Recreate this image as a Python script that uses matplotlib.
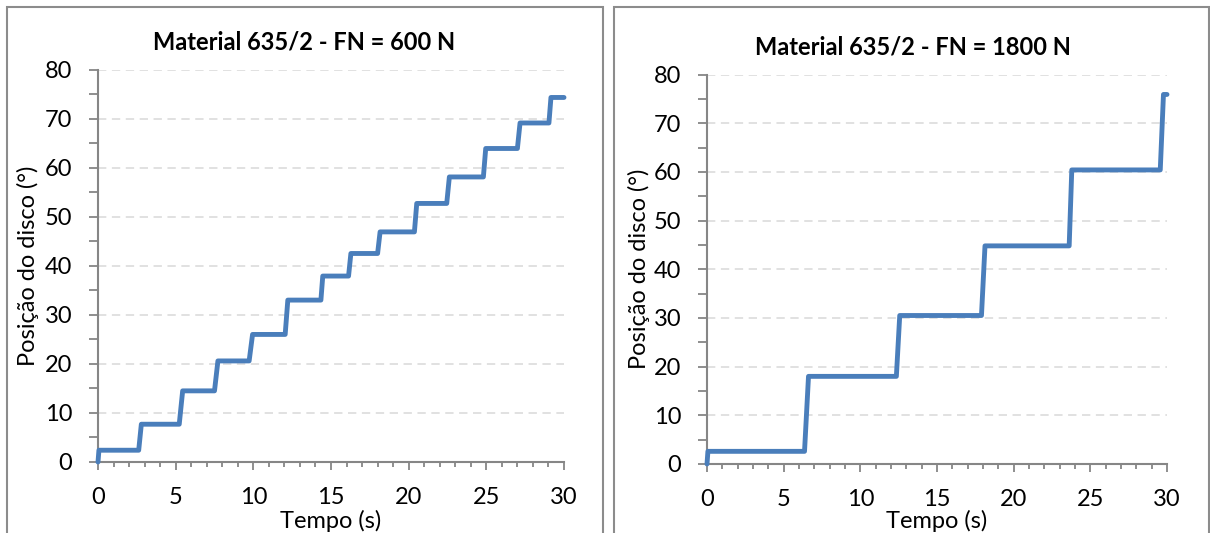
import matplotlib
matplotlib.use("Agg")
import matplotlib.pyplot as plt
from matplotlib.patches import Rectangle
from matplotlib.ticker import MultipleLocator

plt.rcParams['font.family'] = ['Lato', 'DejaVu Sans']
plt.rcParams['lines.scale_dashes'] = False

# FN = 600 N: start/end time of each rise and the plateau levels
t_rise_600 = [0.0, 2.62, 5.23, 7.50, 9.73, 12.05, 14.35, 16.13, 18.00, 20.37, 22.45, 24.81, 27.00, 29.03]
t_top_600 = [0.06, 2.79, 5.45, 7.72, 9.95, 12.22, 14.47, 16.28, 18.16, 20.52, 22.62, 24.96, 27.17, 29.16]
pos_600 = [0, 2.4, 7.7, 14.5, 20.6, 26.0, 33.0, 37.9, 42.5, 46.9, 52.7, 58.1, 63.9, 69.1, 74.3]

# FN = 1800 N
t_rise_1800 = [0.0, 6.36, 12.35, 17.90, 23.62, 29.56]
t_top_1800 = [0.06, 6.62, 12.57, 18.13, 23.79, 29.77]
pos_1800 = [0, 2.6, 18.0, 30.5, 44.8, 60.4, 75.9]

t_end = 30.0
titles = ["Material 635/2 - FN = 600 N", "Material 635/2 - FN = 1800 N"]

BLUE = "#4A7EBB"
AXIS = "#868686"
GRID = "#D9D9D9"


def staircase(rise, top, levels):
    x, y = [rise[0]], [levels[0]]
    for i, (a, b) in enumerate(zip(rise, top)):
        if i > 0:
            x.append(a); y.append(levels[i])
        x.append(b); y.append(levels[i + 1])
    x.append(t_end); y.append(levels[-1])
    return x, y


fig = plt.figure(figsize=(12.1, 5.33), dpi=100)

# chart frames
for x0, x1 in [(7, 603), (614, 1209)]:
    fig.add_artist(Rectangle((x0 / 1210, -0.05), (x1 - x0) / 1210, 1.05 - 7 / 533,
                             transform=fig.transFigure, fill=False,
                             edgecolor="#8C8C8C", linewidth=1.5, clip_on=False))

axes_pos = [[98 / 1210, 71 / 533, 466 / 1210, 392.5 / 533],
            [707 / 1210, 69 / 533, 460 / 1210, 389.5 / 533]]
series = [(t_rise_600, t_top_600, pos_600), (t_rise_1800, t_top_1800, pos_1800)]
title_x = [0.443, 0.448]
xlabel_y = [-0.149, -0.145]
ylabel_x = [-0.15, -0.148]

for k, (pos, (rise, top, lev), title) in enumerate(zip(axes_pos, series, titles)):
    ax = fig.add_axes(pos)
    x, y = staircase(rise, top, lev)
    ax.plot(x, y, color=BLUE, lw=3.5, solid_capstyle="round",
            solid_joinstyle="round", zorder=3, clip_on=False)
    ax.set_xlim(0, 30)
    ax.set_ylim(0, 80)
    ax.xaxis.set_major_locator(MultipleLocator(5))
    ax.xaxis.set_minor_locator(MultipleLocator(1))
    ax.yaxis.set_major_locator(MultipleLocator(10))
    ax.yaxis.set_minor_locator(MultipleLocator(5))
    ax.yaxis.grid(True, which="major", color=GRID, lw=1.1, dashes=(6, 4))
    ax.set_axisbelow(True)
    for s in ["top", "right"]:
        ax.spines[s].set_visible(False)
    for s in ["left", "bottom"]:
        ax.spines[s].set_color(AXIS)
        ax.spines[s].set_linewidth(1.5)
    ax.tick_params(axis="x", which="major", direction="out", length=6, width=1.3,
                   color=AXIS, labelsize=17, pad=12)
    ax.tick_params(axis="x", which="minor", direction="out", length=3.5, width=1.3,
                   color=AXIS)
    ax.tick_params(axis="y", which="both", direction="out", length=6.5, width=1.3,
                   color=AXIS, labelsize=17, pad=12)
    ax.set_xlabel("Tempo (s)", fontsize=17, va="center")
    ax.set_ylabel("Posição do disco (°)", fontsize=17, va="center")
    ax.xaxis.set_label_coords(0.5, xlabel_y[k])
    ax.yaxis.set_label_coords(ylabel_x[k], 0.5)
    ax.text(title_x[k], 1.07, title, transform=ax.transAxes, ha="center",
            va="center", fontsize=17, fontweight="bold")

fig.savefig("out.png", dpi=100)
